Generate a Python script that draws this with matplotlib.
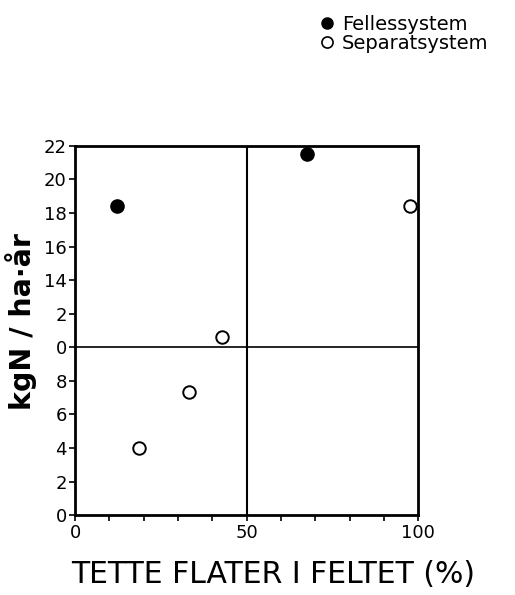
"""Scatter: kg N per ha and year against share of impervious surface."""

import matplotlib
matplotlib.use("Agg")
import matplotlib.pyplot as plt
from matplotlib.lines import Line2D

# data
felles_x = [12.2, 67.6]
felles_y = [18.4, 21.5]
separat_x = [97.7, 42.8, 33.2, 18.5]
separat_y = [18.4, 10.6, 7.35, 4.0]

y_ticks = [0, 2, 4, 6, 8, 10, 12, 14, 16, 18, 20, 22]
# printed as in the original figure
y_tick_labels = ["0", "2", "4", "6", "8", "0", "2", "14", "16", "18", "20", "22"]
x_ticks = [0, 50, 100]
x_minor = [10, 20, 30, 40, 60, 70, 80, 90]

plt.rcParams["font.family"] = ["DejaVu Sans"]

fig = plt.figure(figsize=(5.15, 5.95), dpi=100)
ax = fig.add_axes([0.146, 0.134, 0.666, 0.621])

ax.plot(felles_x, felles_y, "o", color="black", markersize=9.5, clip_on=False)
ax.plot(separat_x, separat_y, "o", markerfacecolor="white", markeredgecolor="black",
        markersize=9, markeredgewidth=1.4, clip_on=False)

ax.axvline(50, color="black", linewidth=1.5)
ax.axhline(10, color="black", linewidth=1.2)

ax.set_xlim(0, 100)
ax.set_ylim(0, 22)
ax.set_xticks(x_ticks)
ax.set_xticks(x_minor, minor=True)
ax.set_yticks(y_ticks)
ax.set_yticklabels(y_tick_labels)
ax.tick_params(axis="both", which="major", length=4, width=1.2, labelsize=13, pad=2)
ax.tick_params(axis="x", which="minor", length=4, width=1.2)
for s in ax.spines.values():
    s.set_linewidth(2)

ax.set_xlabel("TETTE FLATER I FELTET (%)", fontsize=21.5)
ax.xaxis.set_label_coords(0.577, -0.12)
ax.set_ylabel("kgN / ha\u00b7år", fontsize=20.5, fontweight="bold")
ax.yaxis.set_label_coords(-0.11, 0.525)

handles = [
    Line2D([], [], marker="o", linestyle="none", color="black", markersize=8),
    Line2D([], [], marker="o", linestyle="none", markerfacecolor="white",
           markeredgecolor="black", markersize=8, markeredgewidth=1.2),
]
fig.legend(handles, ["Fellessystem", "Separatsystem"], loc="upper left",
           bbox_to_anchor=(0.59, 0.998), frameon=False, fontsize=14,
           handletextpad=0.25, borderpad=0.2, labelspacing=0.0, handlelength=1.0)

fig.savefig("out.png", dpi=100)
